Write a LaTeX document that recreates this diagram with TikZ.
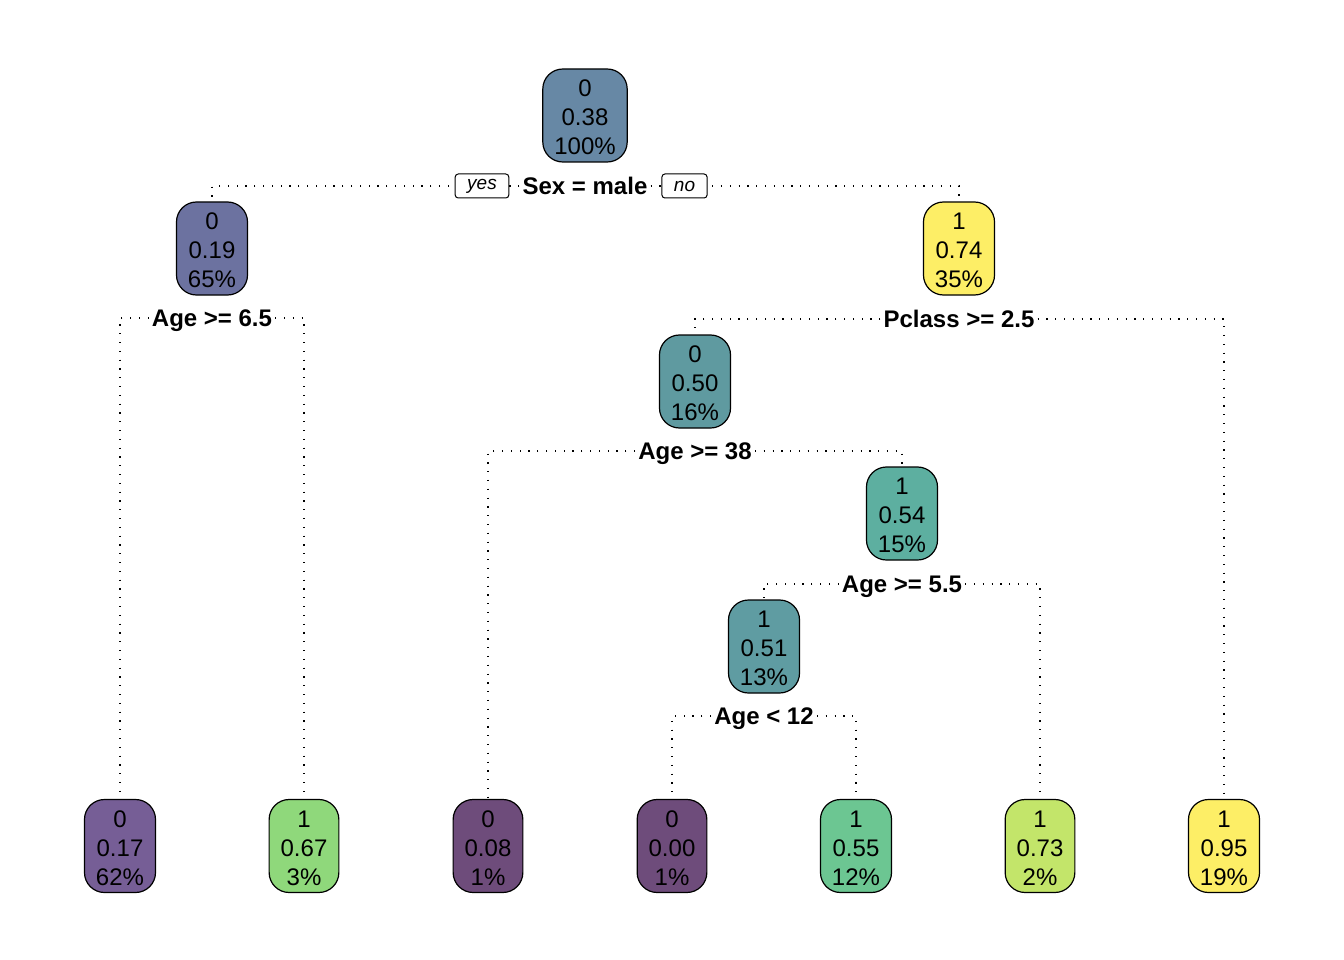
\documentclass[tikz,border=0pt]{standalone}
\usepackage{fontspec}
\setmainfont{Liberation Sans}
\usepackage{xcolor}
\usetikzlibrary{positioning}

\definecolor{cRoot}{HTML}{6788A5}
\definecolor{cMale}{HTML}{6C72A0}
\definecolor{cFemale}{HTML}{FDEE66}
\definecolor{cThird}{HTML}{5F9AA0}
\definecolor{cYoung}{HTML}{5DAFA0}
\definecolor{cMid}{HTML}{5F9CA2}
\definecolor{cLeafA}{HTML}{765E96}
\definecolor{cLeafB}{HTML}{8FD87B}
\definecolor{cLeafC}{HTML}{6E4C7B}
\definecolor{cLeafE}{HTML}{6CC692}
\definecolor{cLeafF}{HTML}{C3E56A}

% class, probability, share of observations
\newcommand{\treecell}[3]{\rule{0pt}{21pt}#1\\#2\\#3}

\begin{document}
\begin{tikzpicture}[x=1pt, y=-1pt,
    nodebox/.style={draw, rounded corners=20pt, line width=1.2pt, minimum height=93pt,
        inner xsep=11.5pt, inner ysep=0pt, align=center, font=\fontsize{24}{29}\selectfont},
    splitlbl/.style={fill=white, inner xsep=3pt, inner ysep=2pt, text height=17.2pt, text depth=0pt,
        font=\fontsize{24}{28}\selectfont\bfseries},
    yesno/.style={draw, fill=white, rounded corners=3pt, line width=1pt, minimum height=24pt,
        inner xsep=12pt, inner ysep=0pt, font=\fontsize{19}{22}\selectfont\itshape},
    dotline/.style={line width=1.2pt, dash pattern=on 1.2pt off 7.6pt}]
    \useasboundingbox (0,0) rectangle (1344,960);

    % inner nodes
    \node[nodebox, fill=cRoot] (root) at (585,115.5) {\treecell{0}{0.38}{100\%}};
    \node[nodebox, fill=cMale] (male) at (212,248.5) {\treecell{0}{0.19}{65\%}};
    \node[nodebox, fill=cFemale] (female) at (959,248.5) {\treecell{1}{0.74}{35\%}};
    \node[nodebox, fill=cThird] (third) at (695,381.5) {\treecell{0}{0.50}{16\%}};
    \node[nodebox, fill=cYoung] (young) at (902,513.5) {\treecell{1}{0.54}{15\%}};
    \node[nodebox, fill=cMid] (mid) at (764,646.5) {\treecell{1}{0.51}{13\%}};

    % leaves
    \node[nodebox, fill=cLeafA] (leafA) at (120,846) {\treecell{0}{0.17}{62\%}};
    \node[nodebox, fill=cLeafB] (leafB) at (304,846) {\treecell{1}{0.67}{3\%}};
    \node[nodebox, fill=cLeafC] (leafC) at (488,846) {\treecell{0}{0.08}{1\%}};
    \node[nodebox, fill=cLeafC] (leafD) at (672,846) {\treecell{0}{0.00}{1\%}};
    \node[nodebox, fill=cLeafE] (leafE) at (856,846) {\treecell{1}{0.55}{12\%}};
    \node[nodebox, fill=cLeafF] (leafF) at (1040,846) {\treecell{1}{0.73}{2\%}};
    \node[nodebox, fill=cFemale] (leafG) at (1224,846) {\treecell{1}{0.95}{19\%}};

    % split labels
    \node[splitlbl] (sSex) at (585,186) {Sex = male};
    \node[splitlbl] (sAgeA) at (212,318) {Age >= 6.5};
    \node[splitlbl] (sClass) at (959,319) {Pclass >= 2.5};
    \node[splitlbl] (sAgeB) at (695,451) {Age >= 38};
    \node[splitlbl] (sAgeC) at (902,584) {Age >= 5.5};
    \node[splitlbl] (sAgeD) at (764,716) {Age < 12};

    % branches
    \draw[dotline] (sSex.west) -| (male.north);
    \draw[dotline] (sSex.east) -| (female.north);
    \draw[dotline] (sAgeA.west) -| (leafA.north);
    \draw[dotline] (sAgeA.east) -| (leafB.north);
    \draw[dotline] (sClass.west) -| (third.north);
    \draw[dotline] (sClass.east) -| (leafG.north);
    \draw[dotline] (sAgeB.west) -| (leafC.north);
    \draw[dotline] (sAgeB.east) -| (young.north);
    \draw[dotline] (sAgeC.west) -| (mid.north);
    \draw[dotline] (sAgeC.east) -| (leafF.north);
    \draw[dotline] (sAgeD.west) -| (leafD.north);
    \draw[dotline] (sAgeD.east) -| (leafE.north);

    % yes / no tags
    \node[yesno] (yes) at (482,186) {yes};
    \node[yesno] (no) at (684.5,186) {no};
\end{tikzpicture}
\end{document}
